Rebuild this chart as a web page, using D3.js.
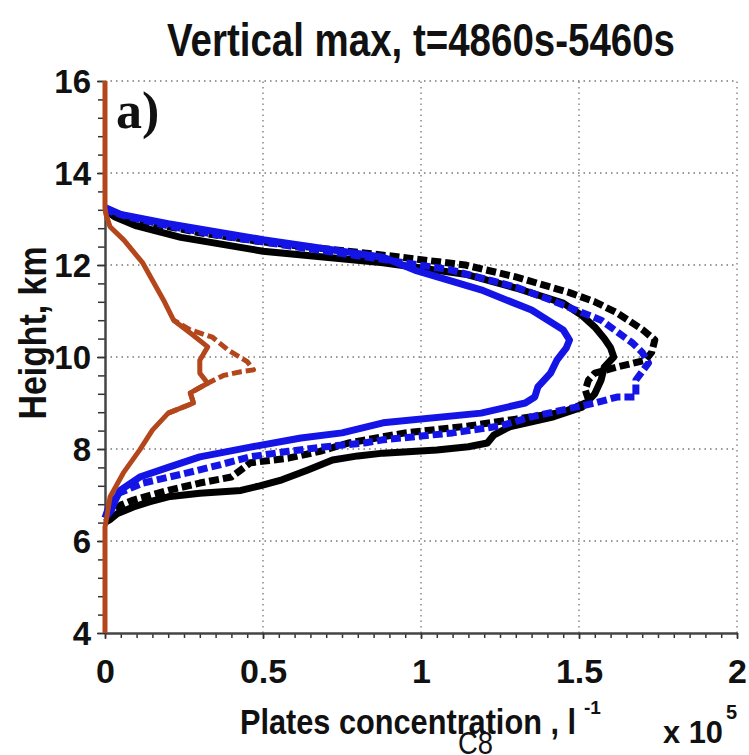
<!DOCTYPE html>
<html>
<head>
<meta charset="utf-8">
<script src="https://cdn.jsdelivr.net/npm/d3@7"></script>
<style>
  body { margin: 0; background: #fff; }
  svg text { fill: #111; }
</style>
</head>
<body>
<div id="chart"></div>
<script>
// Profiles: [concentration (x 10^5 l^-1), height (km)]
const blackSolid = [
  [0, 6.4], [0.015, 6.46], [0.04, 6.6], [0.09, 6.74], [0.14, 6.85], [0.2, 6.96], [0.3, 7.04],
  [0.43, 7.1], [0.49, 7.2], [0.56, 7.33], [0.64, 7.54], [0.72, 7.76], [0.8, 7.85], [0.88, 7.91],
  [1.05, 7.98], [1.15, 8.05], [1.21, 8.13], [1.23, 8.3], [1.28, 8.48], [1.42, 8.7], [1.51, 8.91],
  [1.55, 9.2], [1.57, 9.5], [1.58, 9.78], [1.61, 10.0], [1.6, 10.2], [1.58, 10.4], [1.55, 10.65],
  [1.51, 10.9], [1.45, 11.17], [1.3, 11.5], [1.14, 11.8], [0.88, 12.05], [0.5, 12.3],
  [0.24, 12.6], [0.1, 12.85], [0.03, 13.05], [0, 13.2]
];
const blackDashed = [
  [0, 6.5], [0.02, 6.6], [0.05, 6.78], [0.09, 6.89], [0.2, 7.1], [0.3, 7.26], [0.4, 7.39],
  [0.46, 7.7], [0.58, 7.8], [0.68, 7.95], [0.77, 8.13], [0.95, 8.35], [1.15, 8.5], [1.3, 8.65],
  [1.45, 8.8], [1.52, 9.0], [1.53, 9.07], [1.52, 9.28], [1.53, 9.5], [1.55, 9.65], [1.62, 9.78],
  [1.71, 9.93], [1.73, 10.1], [1.74, 10.37], [1.7, 10.6], [1.62, 10.96], [1.55, 11.2],
  [1.47, 11.4], [1.3, 11.74], [1.14, 12.0], [0.9, 12.2], [0.7, 12.35], [0.5, 12.5],
  [0.3, 12.7], [0.15, 12.9], [0.04, 13.1], [0, 13.2]
];
const blueSolid = [
  [0, 6.5], [0.02, 6.67], [0.03, 6.85], [0.048, 7.1], [0.11, 7.39], [0.2, 7.6], [0.3, 7.83],
  [0.46, 8.04], [0.62, 8.24], [0.75, 8.35], [0.88, 8.57], [1.19, 8.78], [1.33, 9.0],
  [1.36, 9.13], [1.37, 9.35], [1.41, 9.65], [1.43, 9.93], [1.46, 10.2], [1.47, 10.37],
  [1.45, 10.59], [1.35, 11.02], [1.19, 11.46], [0.98, 11.89], [0.88, 12.17], [0.5, 12.55],
  [0.2, 12.9], [0.05, 13.1], [0, 13.25]
];
const blueDashed = [
  [0, 6.5], [0.01, 6.7], [0.03, 7.0], [0.12, 7.26], [0.26, 7.48], [0.36, 7.65], [0.46, 7.83],
  [0.58, 7.95], [0.7, 8.05], [0.82, 8.13], [0.88, 8.2], [1.1, 8.35], [1.25, 8.5], [1.35, 8.7],
  [1.45, 8.85], [1.55, 9.0], [1.62, 9.13], [1.68, 9.13], [1.68, 9.5], [1.72, 9.87],
  [1.7, 10.1], [1.67, 10.3], [1.57, 10.8], [1.41, 11.24], [1.3, 11.52], [1.09, 11.9],
  [0.9, 12.1], [0.6, 12.4], [0.4, 12.6], [0.2, 12.85], [0.07, 13.05], [0, 13.2]
];
const brownSolid = [
  [0, 4], [0, 6.3], [0.005, 6.5], [0.016, 6.96], [0.058, 7.48], [0.11, 7.98], [0.15, 8.41],
  [0.2, 8.78], [0.28, 9.0], [0.27, 9.22], [0.325, 9.43], [0.3, 9.65], [0.3, 9.93],
  [0.325, 10.22], [0.27, 10.52], [0.217, 10.8], [0.185, 11.24], [0.15, 11.67], [0.12, 12.04],
  [0.06, 12.54], [0.016, 12.83], [0.003, 13.1], [0, 13.24], [0, 16]
];
const brownDashed = [
  [0.2, 8.78], [0.28, 9.0], [0.27, 9.22], [0.325, 9.43], [0.375, 9.6], [0.43, 9.68],
  [0.47, 9.72], [0.45, 9.9], [0.39, 10.15], [0.34, 10.43], [0.27, 10.59], [0.217, 10.8]
];

const xTicks = [0, 0.5, 1, 1.5, 2];
const xTickLabels = ["0", "0.5", "1", "1.5", "2"];
const yTicks = [4, 6, 8, 10, 12, 14, 16];
const yTickLabels = ["4", "6", "8", "10", "12", "14", "16"];

const W = 749, H = 755;
const blue = "#1414e6", brown = "#b4461c";
const sans = "'Liberation Sans', Arial, sans-serif";

const svg = d3.select("#chart").append("svg")
    .attr("width", W)
    .attr("height", H)
    .style("font-family", sans)
    .style("font-weight", "bold");

const x = d3.scaleLinear().domain([0, 2]).range([105, 737]);
const y = d3.scaleLinear().domain([4, 16]).range([633, 81]);

// dotted grid
svg.append("g")
    .selectAll("line")
    .data(xTicks.slice(1))
    .enter().append("line")
    .attr("x1", d => x(d)).attr("x2", d => x(d))
    .attr("y1", y(4)).attr("y2", y(16))
    .attr("stroke", "#777").attr("stroke-width", 1.3)
    .attr("stroke-dasharray", "1.5,4");
svg.append("g")
    .selectAll("line")
    .data(yTicks.slice(1))
    .enter().append("line")
    .attr("x1", x(0)).attr("x2", x(2))
    .attr("y1", d => y(d)).attr("y2", d => y(d))
    .attr("stroke", "#777").attr("stroke-width", 1.3)
    .attr("stroke-dasharray", "1.5,4");

// minor ticks
svg.append("g")
    .attr("transform", `translate(0,${y(4)})`)
    .call(d3.axisBottom(x).tickValues(d3.range(0, 2.001, 0.05)).tickSize(5).tickFormat(""))
    .call(g => g.select(".domain").remove())
    .call(g => g.selectAll("line").attr("stroke", "#333").attr("stroke-width", 1.5));
svg.append("g")
    .attr("transform", `translate(${x(0)},0)`)
    .call(d3.axisLeft(y).tickValues(d3.range(4, 16.001, 0.4)).tickSize(7).tickFormat(""))
    .call(g => g.select(".domain").remove())
    .call(g => g.selectAll("line").attr("stroke", "#333").attr("stroke-width", 1.5));

// main axes
const xAxis = svg.append("g")
    .attr("transform", `translate(0,${y(4)})`)
    .call(d3.axisBottom(x).tickValues(xTicks).tickSize(6).tickSizeOuter(0)
        .tickFormat((d, i) => xTickLabels[i]));
xAxis.select(".domain").attr("stroke", "#444").attr("stroke-width", 2.5);
xAxis.selectAll("line").attr("stroke", "#333").attr("stroke-width", 1.5);
xAxis.selectAll("text").attr("font-size", 34).attr("dy", 0).attr("y", 50)
    .attr("fill", "#111").style("font-family", sans);

const yAxis = svg.append("g")
    .attr("transform", `translate(${x(0)},0)`)
    .call(d3.axisLeft(y).tickValues(yTicks).tickSize(8).tickSizeOuter(0)
        .tickFormat((d, i) => yTickLabels[i]));
yAxis.select(".domain").attr("stroke", "#444").attr("stroke-width", 2.5);
yAxis.selectAll("line").attr("stroke", "#333").attr("stroke-width", 1.5);
yAxis.selectAll("text").attr("font-size", 33).attr("x", -14).attr("dy", "0.36em")
    .attr("fill", "#111").style("font-family", sans);

// profiles
const line = d3.line().x(d => x(d[0])).y(d => y(d[1]));
const series = [
  { data: blackSolid, color: "#000", dash: null },
  { data: blackDashed, color: "#000", dash: "10,4" },
  { data: blueSolid, color: blue, dash: null },
  { data: blueDashed, color: blue, dash: "10,4" },
  { data: brownDashed, color: brown, dash: "10,4" },
  { data: brownSolid, color: brown, dash: null }
];
svg.append("g")
    .selectAll("path")
    .data(series)
    .enter().append("path")
    .attr("d", d => line(d.data))
    .attr("fill", "none")
    .attr("stroke", d => d.color)
    .attr("stroke-width", d => d.color === brown ? 5 : 7)
    .attr("stroke-linejoin", "round")
    .attr("stroke-dasharray", d => d.dash);

// texts
svg.append("text")
    .attr("x", 421).attr("y", 56)
    .attr("text-anchor", "middle")
    .attr("font-size", 46)
    .attr("textLength", 508).attr("lengthAdjust", "spacingAndGlyphs")
    .text("Vertical max, t=4860s-5460s");

svg.append("text")
    .attr("transform", "translate(46,333) rotate(-90)")
    .attr("text-anchor", "middle")
    .attr("font-size", 38)
    .attr("textLength", 173).attr("lengthAdjust", "spacingAndGlyphs")
    .text("Height, km");

svg.append("text")
    .attr("x", 240).attr("y", 734)
    .attr("font-size", 35)
    .attr("textLength", 336).attr("lengthAdjust", "spacingAndGlyphs")
    .text("Plates concentration , l");
svg.append("text")
    .attr("x", 584).attr("y", 714)
    .attr("font-size", 19)
    .text("-1");

svg.append("text")
    .attr("x", 663).attr("y", 743)
    .attr("font-size", 31)
    .attr("textLength", 60).attr("lengthAdjust", "spacingAndGlyphs")
    .text("x 10");
svg.append("text")
    .attr("x", 726).attr("y", 719)
    .attr("font-size", 20)
    .text("5");

svg.append("text")
    .attr("x", 116).attr("y", 128)
    .style("font-family", "'Liberation Serif', 'Times New Roman', serif")
    .attr("font-size", 52)
    .text("a)");

svg.append("text")
    .attr("x", 458).attr("y", 754)
    .style("font-weight", "normal")
    .attr("font-size", 31)
    .attr("textLength", 35).attr("lengthAdjust", "spacingAndGlyphs")
    .text("C8");
</script>
</body>
</html>
